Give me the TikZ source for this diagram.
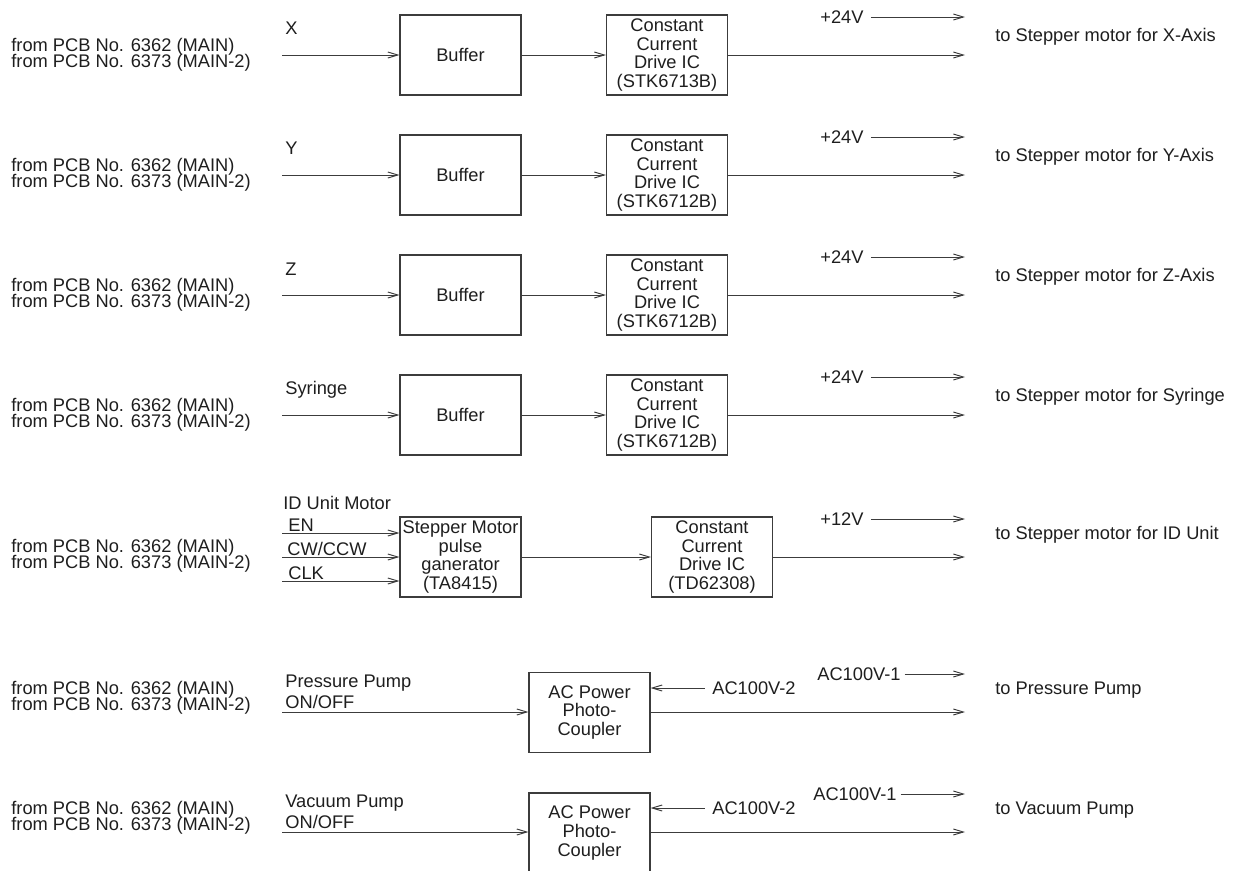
\documentclass[tikz,border=0pt]{standalone}
\usepackage{fontspec}
\setmainfont{Liberation Sans}
\usetikzlibrary{arrows.meta, positioning}
\definecolor{trait}{HTML}{3C3C3C}
\definecolor{texte}{HTML}{1E1E1E}
\newcommand{\serre}{\fontsize{10.4}{9.1}\selectfont\lineskiplimit=-20pt\relax}
\tikzset{
  bloc/.style={rectangle, draw=trait, line width=0.6pt, text=texte,
    font=\fontsize{10.4}{10.7}\selectfont, minimum width=2.42cm,
    minimum height=1.6cm, align=center, inner sep=0pt},
  fleche/.style={-{Straight Barb[length=2mm, width=1.2mm]}, line width=0.55pt, color=trait},
  etiquette/.style={font=\fontsize{10.4}{12}\selectfont, text=texte, inner sep=0pt, anchor=west},
  source/.style={etiquette, align=left, font=\serre},
  commande/.style={etiquette, align=left, font=\fontsize{10.4}{11.8}\selectfont},
}
\begin{document}
\begin{tikzpicture}[x=0.02cm, y=-0.02cm]
    \clip (0,0) rectangle (1235,870);

    % X axis
    \node[source] (srcx) at (11,55) {from PCB No. 6362 (MAIN)\\from PCB No. 6373 (MAIN-2)};
    \coordinate (inx) at (282,55);
    \node[etiquette] (nomx) at (285,28) {X};
    \node[bloc] (tampx) at (460.5,55) {Buffer};
    \node[bloc] (ccdx) at (667,55) {Constant\\ Current\\ Drive IC\\ (STK6713B)};
    \node[etiquette] (vx) at (820,17) {+24V};
    \coordinate (vxfin) at (965,17);
    \coordinate (outx) at (965,55);
    \node[etiquette] (destx) at (995,37) {to Stepper motor for X-Axis};
    \draw[fleche] (inx) -- (tampx);
    \draw[fleche] (tampx) -- (ccdx);
    \draw[fleche] (ccdx) -- (outx);
    \draw[fleche] ([xshift=4pt]vx.east) -- (vxfin);

    % Y axis
    \node[source] (srcy) at (11,175) {from PCB No. 6362 (MAIN)\\from PCB No. 6373 (MAIN-2)};
    \coordinate (iny) at (282,175);
    \node[etiquette] (nomy) at (285,148) {Y};
    \node[bloc] (tampy) at (460.5,175) {Buffer};
    \node[bloc] (ccdy) at (667,175) {Constant\\ Current\\ Drive IC\\ (STK6712B)};
    \node[etiquette] (vy) at (820,137) {+24V};
    \coordinate (vyfin) at (965,137);
    \coordinate (outy) at (965,175);
    \node[etiquette] (desty) at (995,157) {to Stepper motor for Y-Axis};
    \draw[fleche] (iny) -- (tampy);
    \draw[fleche] (tampy) -- (ccdy);
    \draw[fleche] (ccdy) -- (outy);
    \draw[fleche] ([xshift=4pt]vy.east) -- (vyfin);

    % Z axis
    \node[source] (srcz) at (11,295) {from PCB No. 6362 (MAIN)\\from PCB No. 6373 (MAIN-2)};
    \coordinate (inz) at (282,295);
    \node[etiquette] (nomz) at (285,269) {Z};
    \node[bloc] (tampz) at (460.5,295) {Buffer};
    \node[bloc] (ccdz) at (667,295) {Constant\\ Current\\ Drive IC\\ (STK6712B)};
    \node[etiquette] (vz) at (820,257) {+24V};
    \coordinate (vzfin) at (965,257);
    \coordinate (outz) at (965,295);
    \node[etiquette] (destz) at (995,277) {to Stepper motor for Z-Axis};
    \draw[fleche] (inz) -- (tampz);
    \draw[fleche] (tampz) -- (ccdz);
    \draw[fleche] (ccdz) -- (outz);
    \draw[fleche] ([xshift=4pt]vz.east) -- (vzfin);

    % syringe
    \node[source] (srcs) at (11,415) {from PCB No. 6362 (MAIN)\\from PCB No. 6373 (MAIN-2)};
    \coordinate (ins) at (282,415);
    \node[etiquette] (noms) at (285,390) {Syringe};
    \node[bloc] (tamps) at (460.5,415) {Buffer};
    \node[bloc] (ccds) at (667,415) {Constant\\ Current\\ Drive IC\\ (STK6712B)};
    \node[etiquette] (vs) at (820,377) {+24V};
    \coordinate (vsfin) at (965,377);
    \coordinate (outs) at (965,415);
    \node[etiquette] (dests) at (995,397) {to Stepper motor for Syringe};
    \draw[fleche] (ins) -- (tamps);
    \draw[fleche] (tamps) -- (ccds);
    \draw[fleche] (ccds) -- (outs);
    \draw[fleche] ([xshift=4pt]vs.east) -- (vsfin);

    % ID unit
    \node[source] (srcid) at (11,556) {from PCB No. 6362 (MAIN)\\from PCB No. 6373 (MAIN-2)};
    \node[etiquette] (nomid) at (283,503) {ID Unit Motor};
    \coordinate (enid) at (282,533);
    \coordinate (cwid) at (282,557);
    \coordinate (clkid) at (282,581);
    \node[etiquette, anchor=base west] (lenid) at (288,531) {EN};
    \node[etiquette, anchor=base west] (lcwid) at (287,555) {CW/CCW};
    \node[etiquette, anchor=base west] (lclkid) at (288,579) {CLK};
    \node[bloc] (pasid) at (460.5,557) {Stepper Motor\\ pulse\\ ganerator\\ (TA8415)};
    \node[bloc] (ccdid) at (712,557) {Constant\\ Current\\ Drive IC\\ (TD62308)};
    \node[etiquette] (vid) at (820,519) {+12V};
    \coordinate (vidfin) at (965,519);
    \coordinate (outid) at (965,557);
    \node[etiquette] (destid) at (995,535) {to Stepper motor for ID Unit};
    \draw[fleche] (enid) -- (enid -| pasid.west);
    \draw[fleche] (cwid) -- (cwid -| pasid.west);
    \draw[fleche] (clkid) -- (clkid -| pasid.west);
    \draw[fleche] (pasid) -- (ccdid);
    \draw[fleche] (ccdid) -- (outid);
    \draw[fleche] ([xshift=4pt]vid.east) -- (vidfin);

    % pressure pump
    \node[source] (srcp) at (11,698) {from PCB No. 6362 (MAIN)\\from PCB No. 6373 (MAIN-2)};
    \node[commande] (nomp) at (285,692) {Pressure Pump\\ON/OFF};
    \coordinate (inp) at (282,712);
    \node[bloc] (acp) at (589.5,712.5) {AC Power\\ Photo-\\ Coupler};
    \node[etiquette] (acp2) at (712,688) {AC100V-2};
    \node[etiquette] (acp1) at (817,674) {AC100V-1};
    \coordinate (acp1fin) at (965,674);
    \coordinate (outp) at (965,712);
    \node[etiquette] (destp) at (995,690) {to Pressure Pump};
    \draw[fleche] (inp) -- (inp -| acp.west);
    \draw[fleche] ([xshift=-4pt]acp2.west) -- (acp2.west -| acp.east);
    \draw[fleche] (acp.east |- outp) -- (outp);
    \draw[fleche] ([xshift=2pt]acp1.east) -- (acp1fin);

    % vacuum pump
    \node[source] (srcv) at (11,818) {from PCB No. 6362 (MAIN)\\from PCB No. 6373 (MAIN-2)};
    \node[commande] (nomv) at (285,812) {Vacuum Pump\\ON/OFF};
    \coordinate (inv) at (282,832);
    \node[bloc] (acv) at (589.5,833) {AC Power\\ Photo-\\ Coupler};
    \node[etiquette] (acv2) at (712,808) {AC100V-2};
    \node[etiquette] (acv1) at (813,794) {AC100V-1};
    \coordinate (acv1fin) at (965,794);
    \coordinate (outv) at (965,832);
    \node[etiquette] (destv) at (995,810) {to Vacuum Pump};
    \draw[fleche] (inv) -- (inv -| acv.west);
    \draw[fleche] ([xshift=-4pt]acv2.west) -- (acv2.west -| acv.east);
    \draw[fleche] (acv.east |- outv) -- (outv);
    \draw[fleche] ([xshift=2pt]acv1.east) -- (acv1fin);
  \end{tikzpicture}
\end{document}
